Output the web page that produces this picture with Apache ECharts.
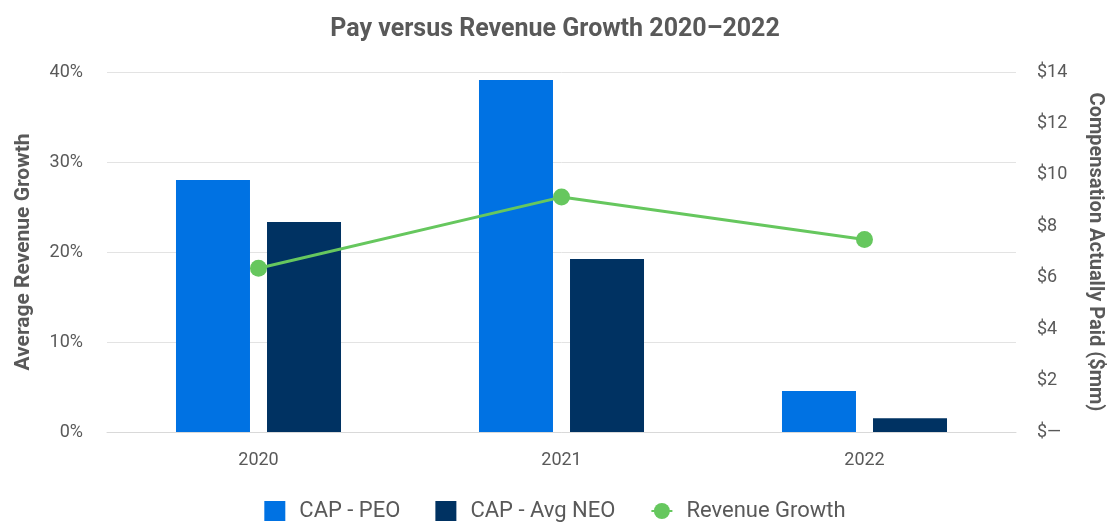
<!DOCTYPE html>
<html>
<head>
<meta charset="utf-8">
<script src="https://cdn.jsdelivr.net/npm/echarts@6/dist/echarts.min.js"></script>
<style>
  html, body { margin: 0; padding: 0; background: #fff; }
  #chart { width: 1110px; height: 524px; }
</style>
</head>
<body>
<div id="chart"></div>
<script>
// data
const years = ['2020', '2021', '2022'];
const capPeo = [9.8, 13.69, 1.59];      // $mm, right axis
const capAvgNeo = [8.17, 6.73, 0.53];   // $mm, right axis
const revenueGrowth = [18.2, 26.1, 21.4]; // %, left axis

const chart = echarts.init(document.getElementById('chart'));

const tickStyle = { fontSize: 18, color: '#595959', fontFamily: 'Roboto' };

chart.setOption({
  animation: false,
  title: {
    text: 'Pay versus Revenue Growth 2020\u20132022',
    left: 'center',
    top: 12,
    textStyle: { fontSize: 25, fontWeight: 'bold', color: '#595959', fontFamily: 'Roboto' }
  },
  legend: {
    bottom: -3,
    left: 'center',
    itemGap: 35,
    itemWidth: 21,
    itemHeight: 20,
    textStyle: { fontSize: 22, color: '#595959', fontFamily: 'Roboto', padding: [0, 0, 0, 9] },
    data: [
      { name: 'CAP - PEO', icon: 'rect' },
      { name: 'CAP - Avg NEO', icon: 'rect' },
      { name: 'Revenue Growth' }
    ]
  },
  grid: { left: 107, right: 94, top: 72, bottom: 92, outerBoundsMode: 'none' },
  xAxis: {
    type: 'category',
    data: years,
    axisLine: { lineStyle: { color: '#d9d9d9' } },
    axisTick: { show: false },
    axisLabel: { ...tickStyle, margin: 19 }
  },
  yAxis: [
    {
      type: 'value',
      min: 0, max: 40, interval: 10,
      name: 'Average Revenue Growth',
      nameLocation: 'middle',
      nameGap: 73,
      nameTextStyle: { fontSize: 21, fontWeight: 'bold', color: '#595959', fontFamily: 'Roboto' },
      axisLabel: { ...tickStyle, margin: 24, formatter: '{value}%' },
      splitLine: { lineStyle: { color: '#e3e3e3' } },
      axisLine: { show: false },
      axisTick: { show: false }
    },
    {
      type: 'value',
      min: 0, max: 14, interval: 2,
      name: 'Compensation Actually Paid ($mm)',
      nameLocation: 'middle',
      nameGap: 69,
      nameRotate: -90,
      nameTextStyle: { fontSize: 20, fontWeight: 'bold', color: '#595959', fontFamily: 'Roboto' },
      axisLabel: { ...tickStyle, margin: 21, formatter: v => v === 0 ? '$\u2014' : '$' + v },
      splitLine: { show: false },
      axisLine: { show: false },
      axisTick: { show: false }
    }
  ],
  series: [
    {
      name: 'CAP - PEO',
      type: 'bar',
      yAxisIndex: 1,
      data: capPeo,
      barWidth: 74,
      barGap: '23%',
      itemStyle: { color: '#0072e3' }
    },
    {
      name: 'CAP - Avg NEO',
      type: 'bar',
      yAxisIndex: 1,
      data: capAvgNeo,
      barWidth: 74,
      itemStyle: { color: '#003262' }
    },
    {
      name: 'Revenue Growth',
      type: 'line',
      yAxisIndex: 0,
      data: revenueGrowth,
      symbol: 'circle',
      symbolSize: 17,
      lineStyle: { color: '#66c75e', width: 3 },
      itemStyle: { color: '#66c75e' }
    }
  ]
});
</script>
</body>
</html>
